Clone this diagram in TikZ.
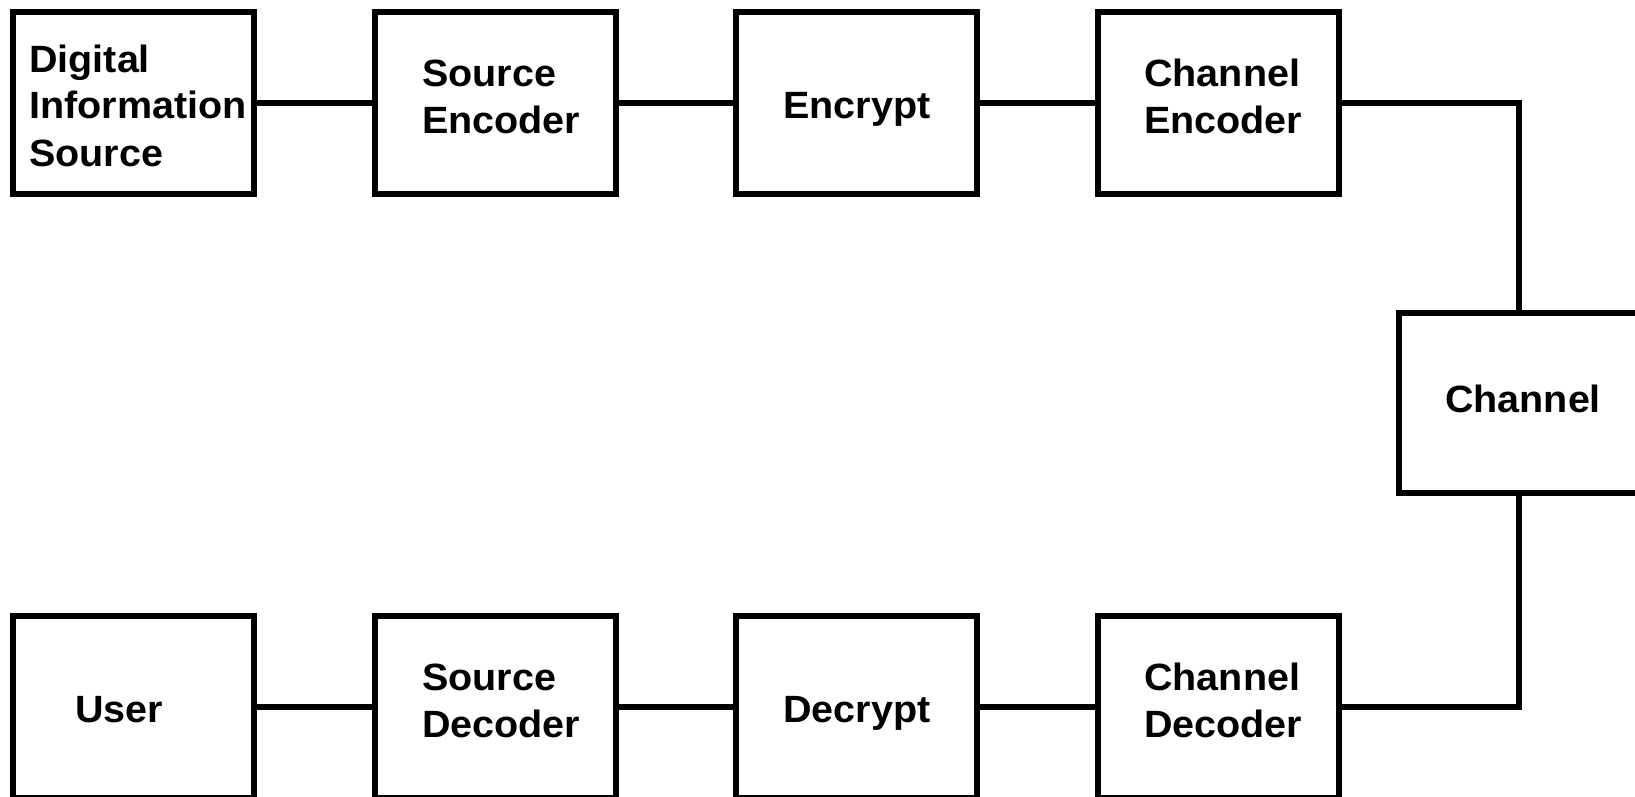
\documentclass[tikz,border=0pt]{standalone}
\usepackage{fontspec}
\setmainfont{Liberation Sans}[FakeStretch=1.04]
\begin{document}
\begin{tikzpicture}[x=1pt,y=-1pt,
  blk/.style={draw, line width=6pt, minimum width=241pt, minimum height=182pt, inner sep=0pt},
  lbl/.style={font=\fontsize{38}{47}\selectfont\bfseries, align=left, inner sep=0pt},
  wire/.style={line width=6pt}]
\useasboundingbox (0,0) rectangle (1635,797);
\clip (0,0) rectangle (1635,797);
\fill[white] (0,0) rectangle (1635,797);
% boxes
\node[blk] (dis) at (133.5,103) {};
\node[blk] (se)  at (495.5,103) {};
\node[blk] (enc) at (856.5,103) {};
\node[blk] (ce)  at (1218,103) {};
\node[blk, minimum height=180pt] (ch) at (1519,403) {};
\node[blk] (usr) at (133.5,707) {};
\node[blk] (sd)  at (495.5,707) {};
\node[blk] (dec) at (856.5,707) {};
\node[blk] (cd)  at (1218,707) {};
% labels
\node[lbl, anchor=base west] (tdis) at (29,166) {Digital\\Information\\Source};
\node[lbl, anchor=base west] (tse)  at (422,133) {Source\\Encoder};
\node[lbl, anchor=base] (tenc) at (857,119) {Encrypt};
\node[lbl, anchor=base west] (tce)  at (1144,133) {Channel\\Encoder};
\node[lbl, anchor=base] (tch)  at (1523,412) {Channel};
\node[lbl, anchor=base] (tusr) at (119,722) {User};
\node[lbl, anchor=base west] (tsd)  at (422,737) {Source\\Decoder};
\node[lbl, anchor=base] (tdec) at (857,722) {Decrypt};
\node[lbl, anchor=base west] (tcd)  at (1144,737) {Channel\\Decoder};
% connectors
\draw[wire] (dis.east) -- (se.west);
\draw[wire] (se.east) -- (enc.west);
\draw[wire] (enc.east) -- (ce.west);
\draw[wire] (ce.east) -| (ch.north);
\draw[wire] (ch.south) |- (cd.east);
\draw[wire] (cd.west) -- (dec.east);
\draw[wire] (dec.west) -- (sd.east);
\draw[wire] (sd.west) -- (usr.east);
\end{tikzpicture}
\end{document}
